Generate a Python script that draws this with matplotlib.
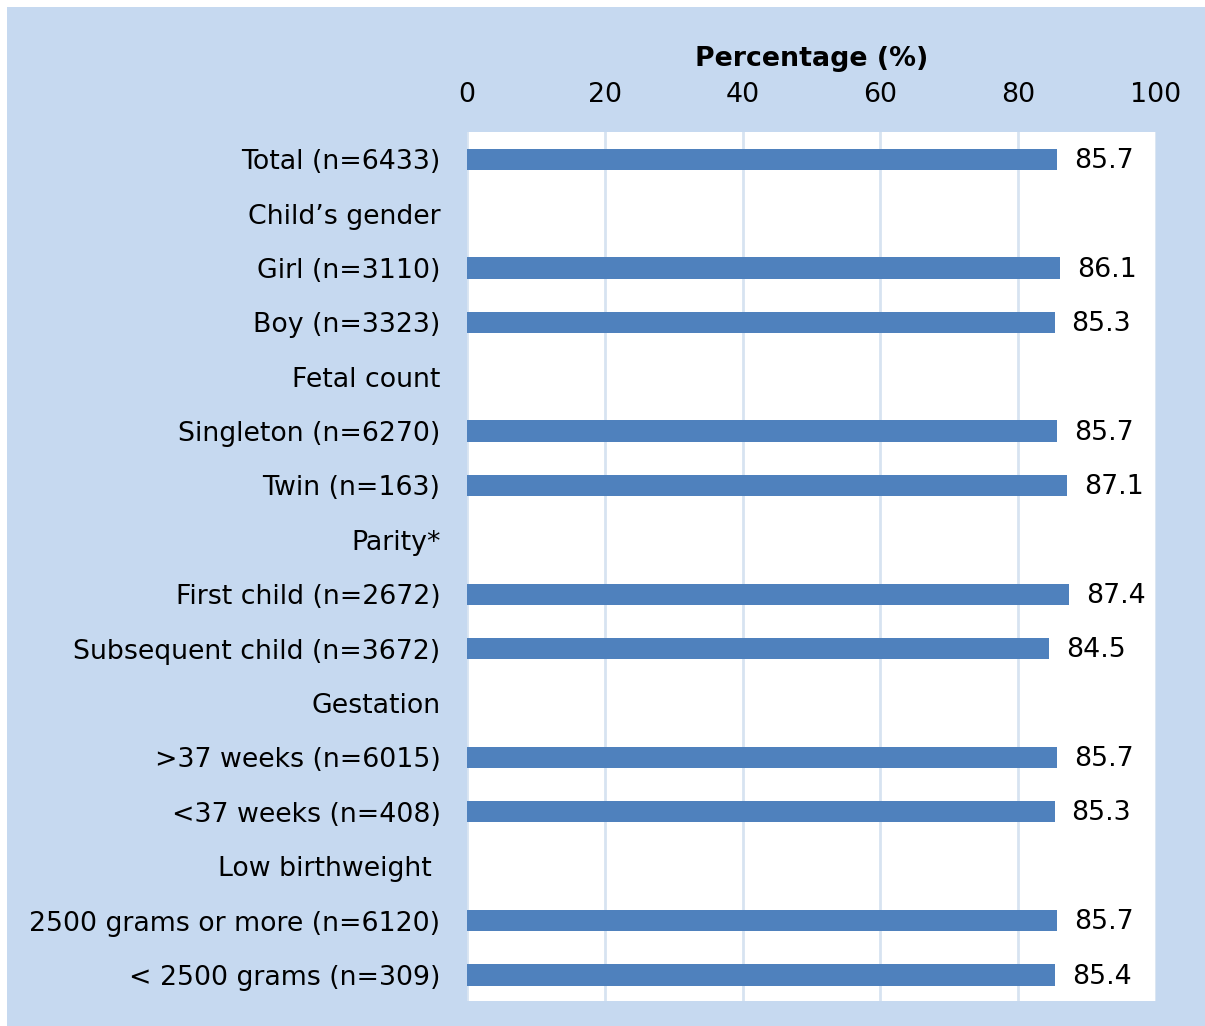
import matplotlib.pyplot as plt
from matplotlib.patches import Rectangle

# Row labels (top to bottom); header rows have no value
labels = [
    "Total (n=6433)",
    "Child\u2019s gender",
    "Girl (n=3110)",
    "Boy (n=3323)",
    "Fetal count",
    "Singleton (n=6270)",
    "Twin (n=163)",
    "Parity*",
    "First child (n=2672)",
    "Subsequent child (n=3672)",
    "Gestation",
    ">37 weeks (n=6015)",
    "<37 weeks (n=408)",
    "Low birthweight ",
    "2500 grams or more (n=6120)",
    "< 2500 grams (n=309)",
]
values = [85.7, None, 86.1, 85.3, None, 85.7, 87.1, None,
          87.4, 84.5, None, 85.7, 85.3, None, 85.7, 85.4]
xticks = [0, 20, 40, 60, 80, 100]

plt.rcParams["font.family"] = ["DejaVu Sans"]

BG = "#C6D9F0"
BAR = "#4F81BD"
GRID = "#D7E3F1"
FS = 19.3

W, H = 1205, 1026
fig = plt.figure(figsize=(W / 100, H / 100), dpi=100)
fig.patch.set_facecolor("white")
fig.patches.append(Rectangle((7 / W, 0), 1 - 7 / W, 1 - 7 / H,
                             transform=fig.transFigure, facecolor=BG,
                             edgecolor="none", zorder=-10))

ax = fig.add_axes([467 / W, 25 / H, (1156 - 467) / W, (1001 - 132) / H])
ax.set_facecolor("white")

ypos = list(range(len(labels)))
for y, v in zip(ypos, values):
    if v is None:
        continue
    ax.barh(y, v, height=0.39, color=BAR, zorder=3)
    ax.text(v + 2.4, y + 0.03, f"{v:.1f}", va="center", ha="left",
            fontsize=FS, color="black", zorder=4)

ax.set_ylim(len(labels) - 0.52, -0.5)
ax.set_xlim(0, 100)
ax.set_yticks(ypos)
ax.set_yticklabels(labels, fontsize=FS)
ax.set_xticks(xticks)
ax.set_xticklabels([str(t) for t in xticks], fontsize=FS)
ax.xaxis.tick_top()
ax.tick_params(axis="both", length=0)
ax.tick_params(axis="y", pad=19)
ax.tick_params(axis="x", pad=17)
ax.grid(axis="x", color=GRID, lw=2, zorder=1)
for s in ax.spines.values():
    s.set_visible(False)

fig.text((467 + 1156) / 2 / W, 1 - 59 / H, "Percentage (%)",
         ha="center", va="center", fontsize=FS, fontweight="bold")

fig.savefig("out.png", dpi=100, facecolor=fig.get_facecolor())
